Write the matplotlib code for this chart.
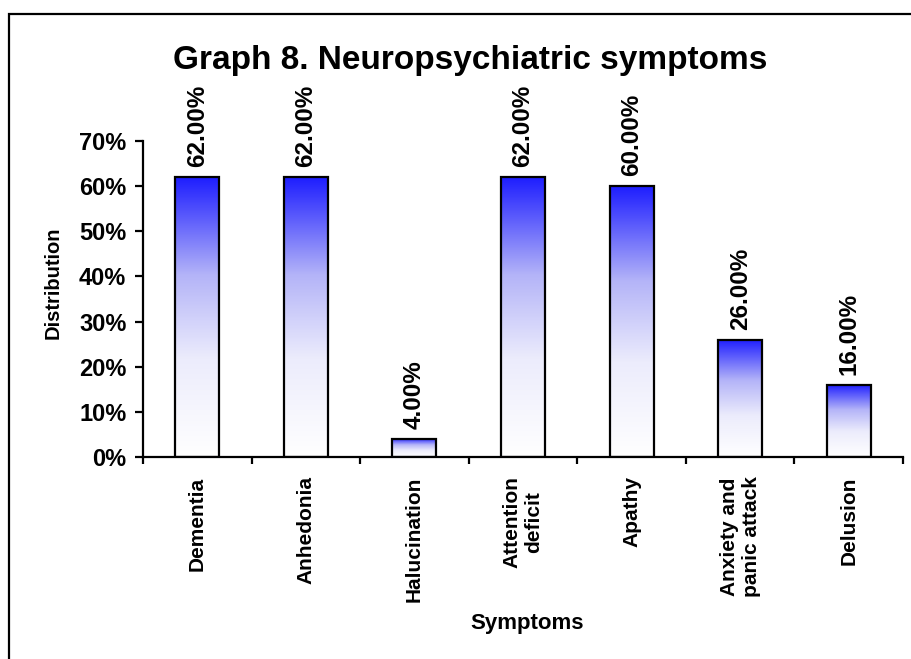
import matplotlib.pyplot as plt
import numpy as np
from matplotlib.colors import LinearSegmentedColormap
from matplotlib.patches import Rectangle
from matplotlib.ticker import PercentFormatter

plt.rcParams['font.family'] = ['Liberation Sans', 'DejaVu Sans']
plt.rcParams['font.weight'] = 'bold'

sintomas = ['Dementia', 'Anhedonia', 'Halucination', 'Attention\ndeficit',
            'Apathy', 'Anxiety and\npanic attack', 'Delusion']
distribuicao = [0.62, 0.62, 0.04, 0.62, 0.60, 0.26, 0.16]
yticks = [0, 0.1, 0.2, 0.3, 0.4, 0.5, 0.6, 0.7]

largura = 0.405
degrade = LinearSegmentedColormap.from_list(
    'degrade', [(0.0, '#ffffff'), (0.35, '#ececfc'), (0.65, '#b4b4f8'), (1.0, '#1e1eff')])

fig = plt.figure(figsize=(9.11, 6.59), dpi=100)
ax = fig.add_axes([143 / 911, 1 - 457 / 659, (903 - 143) / 911, (457 - 141) / 659])

# moldura externa do grafico
fig.patches.append(Rectangle((9 / 911, -0.2), 1.2, 1.2 - 14 / 659,
                             transform=fig.transFigure, fill=False,
                             edgecolor='black', linewidth=1.6))

x = np.arange(len(sintomas))
grad = np.linspace(0, 1, 256).reshape(-1, 1)

# cada barra recebe um degrade branco -> azul
for xi, v in zip(x, distribuicao):
    ax.imshow(grad, cmap=degrade, origin='lower', aspect='auto',
              extent=(xi - largura / 2, xi + largura / 2, 0, v), zorder=2)

barras = ax.bar(x, distribuicao, width=largura, facecolor='none',
                edgecolor='black', linewidth=1.6, zorder=3)

for xi, v in zip(x, distribuicao):
    ax.annotate(f'{v:.2%}', (xi, v), xytext=(0, 7), textcoords='offset points',
                rotation=90, ha='center', va='bottom', fontsize=17.5,
                fontweight='bold', annotation_clip=False)

ax.set_xlim(-0.5, len(sintomas) - 0.5)
ax.set_ylim(0, 0.7)

ax.set_yticks(yticks)
ax.yaxis.set_major_formatter(PercentFormatter(1.0, decimals=0))
ax.tick_params(axis='y', direction='out', length=6, width=1.6, pad=6, labelsize=17)

ax.set_xticks(np.arange(-0.5, len(sintomas)), labels=[])
ax.set_xticks(x, labels=sintomas, minor=True)
ax.tick_params(axis='x', which='major', direction='out', length=5, width=1.6)
ax.tick_params(axis='x', which='minor', length=0, pad=14, labelsize=15)
for lbl in ax.get_xticklabels(minor=True):
    lbl.set_rotation(90)
    lbl.set_va('top')
    lbl.set_ha('center')
    lbl.set_multialignment('center')

for lado in ['top', 'right']:
    ax.spines[lado].set_visible(False)
for lado in ['left', 'bottom']:
    ax.spines[lado].set_linewidth(1.6)

fig.text(470 / 911, 1 - 60 / 659, 'Graph 8. Neuropsychiatric symptoms',
         ha='center', va='center', fontsize=24, fontweight='bold')
fig.text(53 / 911, 1 - 283 / 659, 'Distribution', rotation=90,
         ha='center', va='center', fontsize=14.5, fontweight='bold')
fig.text(527 / 911, 1 - 623 / 659, 'Symptoms',
         ha='center', va='center', fontsize=16, fontweight='bold')

fig.savefig('out.png', dpi=100)
